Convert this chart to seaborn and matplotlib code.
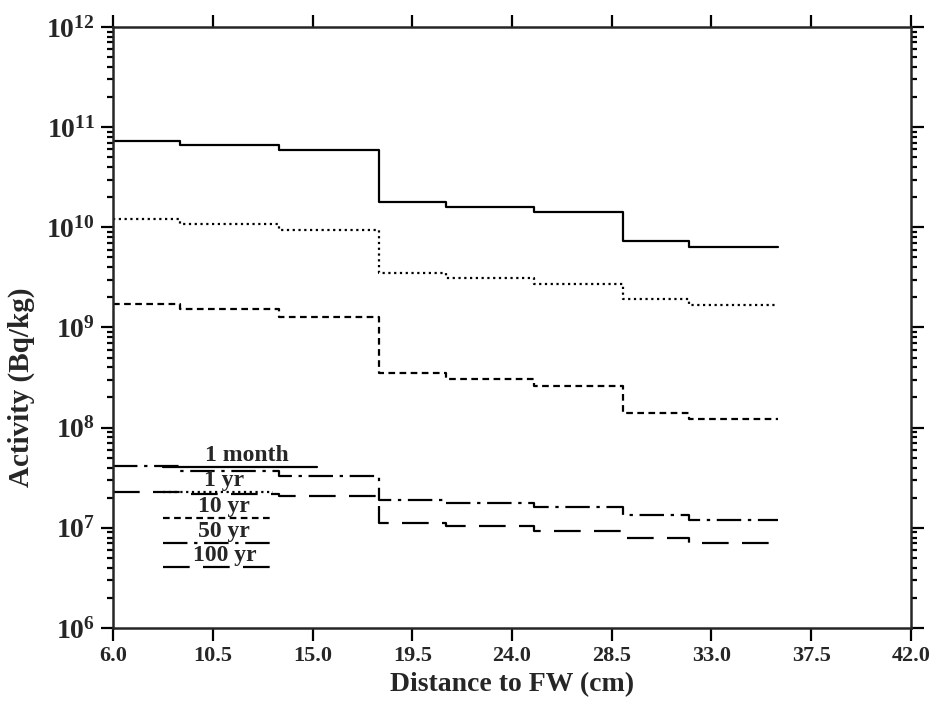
import numpy as np
import pandas as pd
import seaborn as sns
import matplotlib.pyplot as plt
from matplotlib.ticker import LogLocator, NullFormatter, FixedLocator

# step edges along the distance to the first wall (cm)
edges = [6.0, 9.0, 13.5, 18.0, 21.0, 25.0, 29.0, 32.0, 36.0]

# activity per zone (Bq/kg), one value per step
act_1month = [7.3e10, 6.6e10, 5.9e10, 1.78e10, 1.58e10, 1.42e10, 7.3e9, 6.4e9]
act_1yr = [1.20e10, 1.08e10, 9.3e9, 3.5e9, 3.1e9, 2.7e9, 1.92e9, 1.69e9]
act_10yr = [1.72e9, 1.52e9, 1.28e9, 3.5e8, 3.06e8, 2.6e8, 1.41e8, 1.21e8]
act_50yr = [4.1e7, 3.7e7, 3.3e7, 1.9e7, 1.77e7, 1.6e7, 1.35e7, 1.19e7]
act_100yr = [2.3e7, 2.16e7, 2.08e7, 1.12e7, 1.04e7, 9.3e6, 8.0e6, 7.1e6]

labels = ["1 month", "1 yr", "10 yr", "50 yr", "100 yr"]
xticks = [6.0, 10.5, 15.0, 19.5, 24.0, 28.5, 33.0, 37.5, 42.0]

sns.set_style("ticks")
plt.rcParams['font.family'] = ['Liberation Serif', 'DejaVu Serif']
plt.rcParams['font.weight'] = 'bold'
plt.rcParams['axes.labelweight'] = 'bold'
plt.rcParams['mathtext.default'] = 'regular'

series = [act_1month, act_1yr, act_10yr, act_50yr, act_100yr]
styles = ['-', (0, (1, 1.6)), (0, (3, 2)), (0, (11, 3, 1.5, 3)), (0, (12, 6))]

fig = plt.figure(figsize=(9.41, 7.06), dpi=100)
ax = fig.add_axes([0.1201, 0.1105, 0.848, 0.8513])

for lab, vals, ls in zip(labels, series, styles):
    df = pd.DataFrame({'x': edges, 'y': vals + [vals[-1]]})
    sns.lineplot(data=df, x='x', y='y', ax=ax, color='black', linestyle=ls,
                 linewidth=1.6, drawstyle='steps-post', estimator=None)

ax.set_yscale('log')
ax.set_ylim(1e6, 1e12)
ax.set_xlim(6, 42)
ax.xaxis.set_major_locator(FixedLocator(xticks))
ax.set_xticklabels([f"{v:.1f}" for v in xticks])
ax.yaxis.set_major_locator(LogLocator(base=10, numticks=10))
ax.yaxis.set_minor_locator(LogLocator(base=10, subs=np.arange(2, 10), numticks=100))
ax.yaxis.set_minor_formatter(NullFormatter())

for s in ax.spines.values():
    s.set_linewidth(1.8)
    s.set_visible(True)
ax.tick_params(which='both', direction='out', top=True, right=True, width=1.6, color='black')
ax.tick_params(which='major', length=9)
ax.tick_params(which='minor', length=4)
ax.tick_params(axis='x', labelsize=16, pad=4)
ax.tick_params(axis='y', labelsize=20, pad=4)

ax.set_xlabel('Distance to FW (cm)', fontsize=20, labelpad=4)
ax.set_ylabel('Activity (Bq/kg)', fontsize=21)
ax.yaxis.set_label_coords(-0.098, 0.40)

# legend drawn as the original: label above a short line sample
leg_y = [0.268, 0.2255, 0.183, 0.1414, 0.1015]
leg_x1 = [0.2556, 0.2005, 0.2005, 0.2005, 0.2005]
for lab, ls, y, x1 in zip(labels, styles, leg_y, leg_x1):
    ax.plot([0.0627, x1], [y, y], transform=ax.transAxes, color='black',
            linestyle=ls, linewidth=1.6)
    ax.text((0.0627 + x1) / 2 + 0.008, y + 0.002, lab, transform=ax.transAxes,
            ha='center', va='bottom', fontsize=17, fontweight='bold')

fig.savefig('out.png', dpi=100)
